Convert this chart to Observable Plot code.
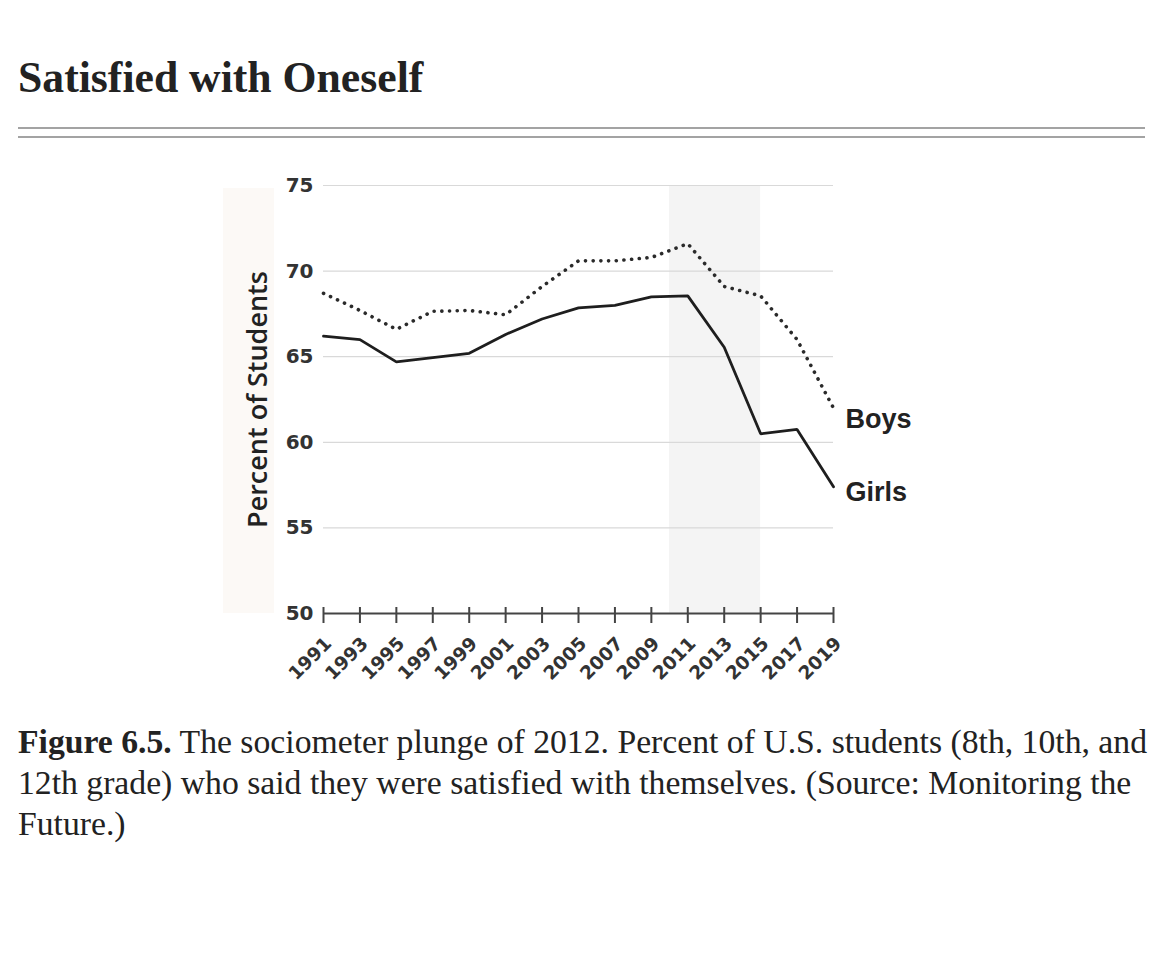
<!DOCTYPE html>
<html><head><meta charset="utf-8">
<script src="https://cdn.jsdelivr.net/npm/d3@7"></script>
<script src="https://cdn.jsdelivr.net/npm/@observablehq/plot@0.6"></script>
<style>
body{margin:0;background:#fff;width:1170px;height:970px;position:relative;overflow:hidden}
#title{position:absolute;left:18px;top:56px;font:bold 43.7px/43px "Liberation Serif","Times New Roman",serif;color:#222;white-space:nowrap}
.rule{position:absolute;left:18px;width:1127px;height:0;border-top:2px solid #a3a3a3}
#band{position:absolute;left:223px;top:188px;width:51px;height:425px;background:#fcf9f6}
#chart{position:absolute;left:220px;top:160px}
#caption{position:absolute;left:18px;top:721px;width:1160px;font:33.7px/41px "Liberation Serif","Times New Roman",serif;color:#222;white-space:nowrap}
#caption b{font-weight:bold}
</style></head>
<body>
<div id="title">Satisfied with Oneself</div>
<div class="rule" style="top:127px"></div>
<div class="rule" style="top:136px"></div>
<div id="band"></div>
<div id="chart"></div>
<div id="caption"><b>Figure 6.5.</b> The sociometer plunge of 2012. Percent of U.S. students (8th, 10th, and<br>12th grade) who said they were satisfied with themselves. (Source: Monitoring the<br>Future.)</div>
<script>
const years = [1991,1993,1995,1997,1999,2001,2003,2005,2007,2009,2011,2013,2015,2017,2019];
const girls = [66.2,66.0,64.7,64.95,65.2,66.3,67.2,67.85,68.0,68.5,68.55,65.55,60.5,60.75,57.4];
const boys  = [68.7,67.7,66.6,67.65,67.7,67.45,69.1,70.6,70.6,70.8,71.6,69.1,68.55,66.0,62.0];
const seriesNames = ["Boys","Girls"];
const yTicks = [50,55,60,65,70,75];
const gridValues = [55,60,65,70,75];
const shadeStart = [2010];
const shadeEnd = [2015];
const yLabel = "Percent of Students";

const data = [
  ...years.map((year,i)=>({series:"Boys",year,value:boys[i]})),
  ...years.map((year,i)=>({series:"Girls",year,value:girls[i]}))
];
const shade = shadeStart.map((s,i)=>({start:s,end:shadeEnd[i]}));
const last = seriesNames.map(s=>data.filter(d=>d.series===s).at(-1));
const tickFont = "'DejaVu Sans', Verdana, sans-serif";

const chart = Plot.plot({
  width:720, height:540,
  marginLeft:103, marginRight:107, marginTop:25, marginBottom:87,
  style:{fontFamily:"'Liberation Sans', Arial, sans-serif", fontSize:"20px", background:"transparent", overflow:"visible"},
  x:{domain:[1991,2019], axis:null},
  y:{domain:[50,75], axis:null},
  marks:[
    Plot.rect(shade,{x1:"start",x2:"end",fill:"#f4f4f4"}),
    Plot.ruleY(gridValues,{stroke:"#d9d9d9",strokeWidth:1.2}),
    Plot.ruleY([50],{stroke:"#444",strokeWidth:2}),
    Plot.axisX({ticks:years,tickSize:16,dy:-6,stroke:"#444",strokeWidth:2,tickFormat:()=>"",label:null}),
    Plot.text(years,{x:d=>d,frameAnchor:"bottom",text:d=>String(d),rotate:-45,textAnchor:"end",lineAnchor:"middle",dx:5,dy:27,fontSize:18.5,fontWeight:"bold",fontFamily:tickFont,fill:"#333"}),
    Plot.text(yTicks,{y:d=>d,frameAnchor:"left",text:d=>String(d),textAnchor:"end",dx:-10,fontSize:20,fontWeight:"bold",fontFamily:tickFont,fill:"#333"}),
    Plot.line(data.filter(d=>d.series==="Girls"),{x:"year",y:"value",stroke:"#1e1e1e",strokeWidth:2.8,strokeLinejoin:"miter"}),
    Plot.line(data.filter(d=>d.series==="Boys"),{x:"year",y:"value",stroke:"#2a2a2a",strokeWidth:3.6,strokeDasharray:"0.1,7.6",strokeLinecap:"round"}),
    Plot.text(last.filter(d=>d.series==="Boys"),{x:"year",y:"value",text:"series",textAnchor:"start",dx:12,dy:11,fontSize:27,fontWeight:"bold",fill:"#222"}),
    Plot.text(last.filter(d=>d.series==="Girls"),{x:"year",y:"value",text:"series",textAnchor:"start",dx:12,dy:6,fontSize:27,fontWeight:"bold",fill:"#222"}),
    Plot.text([yLabel],{frameAnchor:"left",textAnchor:"middle",rotate:-90,dx:-65,fontSize:27,fontWeight:600,fontFamily:"'Open Sans', sans-serif",fill:"#222"})
  ]
});
document.getElementById("chart").appendChild(chart);
</script>
</body></html>
